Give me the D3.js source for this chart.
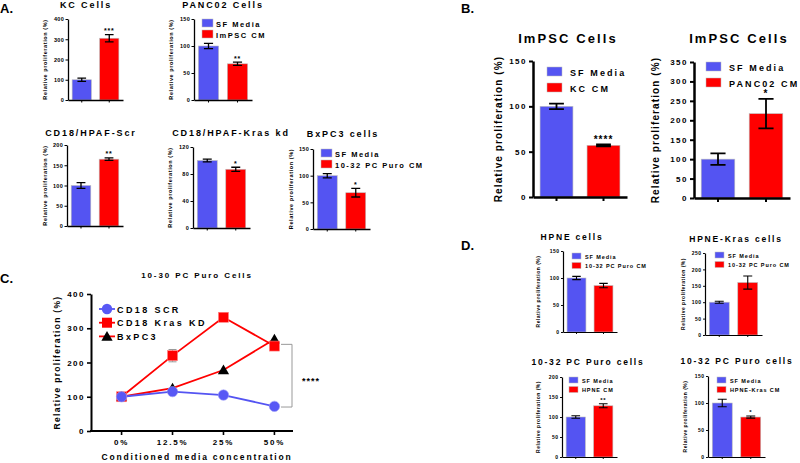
<!DOCTYPE html>
<html><head><meta charset="utf-8">
<script src="https://cdn.jsdelivr.net/npm/d3@7"></script>
<style>body{margin:0;background:#fff}svg{display:block;font-family:"Liberation Sans",Arial,sans-serif;font-weight:bold}</style>
</head><body><svg width="800" height="463"></svg>
<script>
// ---------- DATA ----------
const groups = ["SF Media", "CM"];
const kcCells = [100, 305], kcCellsErr = [8, 18];
const panc02 = [100, 67], panc02Err = [5, 3];
const hpafScr = [100, 165], hpafScrErr = [7, 3];
const hpafKras = [100, 87], hpafKrasErr = [2, 3];
const bxpc3 = [100, 68], bxpc3Err = [4, 8];
const impscKC = [100, 57], impscKCErr = [3, 1];
const impscPanc = [100, 217], impscPancErr = [15, 38];
const hpne = [100, 86], hpneErr = [3, 4];
const hpneKras = [100, 160], hpneKrasErr = [3, 20];
const puroHpne = [100, 128], puroHpneErr = [3, 5];
const puroHpneKras = [100, 74], puroHpneKrasErr = [7, 2];

const concentrations = ["0%", "12.5%", "25%", "50%"];
const cd18Scr = [100, 115, 105, 72];
const cd18KrasKD = [100, 220, 332, 248];
const cd18KrasKDErr = [4, 18, 8, 10];
const bxpc3Line = [100, 125, 178, 268];
const lineTicks = [0, 100, 200, 300, 400];

// ---------- STYLE ----------
const BLUE = "#5454F2", RED = "#FF0000";
const svg = d3.select("svg");
const STY = {
  A: {tickFs:5.5, tickLs:0.3, tickLen:2.5, pad:1.5, axisW:1.3, lblFs:5.5, lblLs:0.6, titleFs:9, titleLs:1.9, legFs:7.5, legLs:1.5, sqW:11, sqH:8, legGap:11, legTx:3, sigFs:7, ew:1.3},
  B: {tickFs:8, tickLs:1.5, tickLen:4, pad:2, axisW:2.5, lblFs:10, lblLs:1.1, titleFs:13, titleLs:2.1, legFs:9, legLs:2.1, sqW:15, sqH:9, legGap:16, legTx:8, sigFs:10, ew:1.8},
  D: {tickFs:5, tickLs:0.5, tickLen:2, pad:1.5, axisW:1.2, lblFs:5, lblLs:0.5, titleFs:8.5, titleLs:1.8, legFs:5.5, legLs:0.9, sqW:9, sqH:6, legGap:9.5, legTx:4, sigFs:6, ew:1.1}
};

const panels = [
 {title:"KC Cells", vals:kcCells, err:kcCellsErr, sig:"***", max:400, step:100, st:"A", x0:68,x1:123,y0:19,y1:100, tx:86, ty:8, lx:47},
 {title:"PANC02 Cells", vals:panc02, err:panc02Err, sig:"**", max:150, step:50, legend:["SF Media","ImPSC CM"], st:"A", x0:194,x1:252,y0:19,y1:100, tx:223, ty:8, lx:173, legX:202, legY:19},
 {title:"CD18/HPAF-Scr", vals:hpafScr, err:hpafScrErr, sig:"**", max:200, step:50, st:"A", x0:67,x1:123,y0:145,y1:226, tx:91, ty:136, lx:47},
 {title:"CD18/HPAF-Kras kd", vals:hpafKras, err:hpafKrasErr, sig:"*", max:120, step:40, st:"A", x0:193,x1:250,y0:147,y1:228, tx:231, ty:136, lx:172},
 {title:"BxPC3 cells", vals:bxpc3, err:bxpc3Err, sig:"*", max:150, step:50, legend:["SF Media","10-32 PC Puro CM"], st:"A", x0:313,x1:370,y0:149,y1:229, tx:343, ty:137, lx:293, legX:321, legY:149},
 {title:"ImPSC Cells", vals:impscKC, err:impscKCErr, sig:"****", max:150, step:50, legend:["SF Media","KC CM"], st:"B", x0:533,x1:627,y0:61,y1:197, tx:568, ty:43, lx:502, legX:547, legY:67},
 {title:"ImPSC Cells", vals:impscPanc, err:impscPancErr, sig:"*", max:350, step:50, legend:["SF Media","PANC02 CM"], st:"B", x0:694,x1:790,y0:62,y1:198, tx:739, ty:43, lx:659, legX:706, legY:62},
 {title:"HPNE cells", vals:hpne, err:hpneErr, sig:"", max:150, step:50, legend:["SF Media","10-32 PC Puro CM"], st:"D", x0:563,x1:617,y0:251,y1:332, tx:572, ty:240, lx:540, legX:572, legY:253},
 {title:"HPNE-Kras cells", vals:hpneKras, err:hpneKrasErr, sig:"", max:250, step:50, legend:["SF Media","10-32 PC Puro CM"], st:"D", x0:705,x1:762,y0:253,y1:335, tx:736, ty:242, lx:685, legX:715, legY:252},
 {title:"10-32 PC Puro cells", vals:puroHpne, err:puroHpneErr, sig:"**", max:200, step:50, legend:["SF Media","HPNE CM"], st:"D", x0:562,x1:617,y0:377,y1:457, tx:588, ty:365, lx:540, legX:569, legY:377},
 {title:"10-32 PC Puro cells", vals:puroHpneKras, err:puroHpneKrasErr, sig:"*", max:150, step:50, legend:["SF Media","HPNE-Kras CM"], st:"D", x0:708,x1:765,y0:376,y1:457, tx:737, ty:364, lx:687, legX:717, legY:377}
];

function barPanel(o){
  const s = STY[o.st];
  const g = svg.append("g");
  const y = d3.scaleLinear().domain([0,o.max]).range([o.y1,o.y0]);
  const x = d3.scaleBand().domain(groups).range([o.x0,o.x1]).paddingInner(0.3).paddingOuter(0.15);
  const bw = x.bandwidth();
  g.selectAll("rect.bar").data(o.vals).join("rect").attr("class","bar")
    .attr("x",(d,i)=>x(groups[i])).attr("width",bw)
    .attr("y",d=>y(d)).attr("height",d=>y(0)-y(d))
    .attr("fill",(d,i)=>i?RED:BLUE).attr("stroke","#bdbdbd").attr("stroke-width",0.6);
  const cw = bw*0.45;
  o.vals.forEach((v,i)=>{
    const cx = x(groups[i])+bw/2, e=o.err[i];
    g.append("path").attr("d",`M${cx},${y(v+e)}V${y(v-e)}M${cx-cw/2},${y(v+e)}H${cx+cw/2}M${cx-cw/2},${y(v-e)}H${cx+cw/2}`)
      .attr("stroke","#000").attr("stroke-width",s.ew).attr("fill","none");
  });
  if(o.sig){
    const cx = x(groups[1])+bw/2;
    g.append("text").attr("x",cx).attr("y",y(o.vals[1]+o.err[1])-1.5).attr("text-anchor","middle")
      .attr("font-size",s.sigFs).attr("letter-spacing",s.sigFs*0.1).text(o.sig);
  }
  const ya = g.append("g").attr("transform",`translate(${o.x0},0)`)
    .call(d3.axisLeft(y).tickValues(d3.range(0,o.max+1e-6,o.step)).tickSize(s.tickLen).tickSizeOuter(0).tickPadding(s.pad));
  ya.select(".domain").attr("stroke","#000").attr("stroke-width",s.axisW);
  ya.selectAll(".tick line").attr("stroke","#000").attr("stroke-width",s.axisW*0.8);
  ya.selectAll(".tick text").attr("font-size",s.tickFs).attr("letter-spacing",s.tickLs).attr("font-family",null).attr("fill","#000");
  const xa = g.append("g").attr("transform",`translate(0,${o.y1})`)
    .call(d3.axisBottom(x).tickSize(s.tickLen).tickSizeOuter(0).tickFormat(""));
  xa.select(".domain").attr("stroke","#000").attr("stroke-width",s.axisW);
  xa.selectAll(".tick line").attr("stroke","#000").attr("stroke-width",s.axisW*0.8);
  g.append("text").attr("transform",`translate(${o.lx},${(o.y0+o.y1)/2}) rotate(-90)`).attr("text-anchor","middle")
    .attr("font-size",s.lblFs).attr("letter-spacing",s.lblLs).text("Relative proliferation (%)");
  g.append("text").attr("x",o.tx).attr("y",o.ty).attr("text-anchor","middle")
    .attr("font-size",s.titleFs).attr("letter-spacing",s.titleLs).text(o.title);
  if(o.legend){
    o.legend.forEach((t,i)=>{
      const yy = o.legY + i*s.legGap;
      g.append("rect").attr("x",o.legX).attr("y",yy).attr("width",s.sqW).attr("height",s.sqH)
        .attr("fill",i?RED:BLUE).attr("stroke","#bdbdbd").attr("stroke-width",0.5);
      g.append("text").attr("x",o.legX+s.sqW+s.legTx).attr("y",yy+s.sqH-0.5)
        .attr("font-size",s.legFs).attr("letter-spacing",s.legLs).text(t);
    });
  }
}
panels.forEach(barPanel);

// ---------- Panel C ----------
(function(){
  const X0=91, X1=293, Y0=294, Y1=431;
  const g = svg.append("g");
  const y = d3.scaleLinear().domain([0,400]).range([Y1,Y0]);
  const x = d3.scalePoint().domain(concentrations).range([X0,305]).padding(0.6);
  const ya = g.append("g").attr("transform",`translate(${X0},0)`)
    .call(d3.axisLeft(y).tickValues(lineTicks).tickSize(4).tickSizeOuter(0).tickPadding(2));
  ya.select(".domain").attr("stroke","#000").attr("stroke-width",2);
  ya.selectAll(".tick line").attr("stroke","#000").attr("stroke-width",1.6);
  ya.selectAll(".tick text").attr("font-size",8).attr("letter-spacing",1.5).attr("font-family",null).attr("fill","#000");
  g.append("line").attr("x1",X0-1).attr("x2",X1).attr("y1",Y1).attr("y2",Y1).attr("stroke","#000").attr("stroke-width",2);
  concentrations.forEach(c=>{
    g.append("line").attr("x1",x(c)).attr("x2",x(c)).attr("y1",Y1).attr("y2",Y1+4).attr("stroke","#000").attr("stroke-width",1.6);
    g.append("text").attr("x",x(c)).attr("y",445).attr("text-anchor","middle").attr("font-size",8).attr("letter-spacing",1.8).text(c);
  });
  g.append("text").attr("x",197).attr("y",460).attr("text-anchor","middle").attr("font-size",8.5).attr("letter-spacing",1.8).text("Conditioned media concentration");
  g.append("text").attr("transform",`translate(60,${(Y0+Y1)/2}) rotate(-90)`).attr("text-anchor","middle")
    .attr("font-size",8.5).attr("letter-spacing",1.3).text("Relative proliferation (%)");
  g.append("text").attr("x",197).attr("y",278).attr("text-anchor","middle").attr("font-size",8).attr("letter-spacing",1.9).text("10-30 PC Puro Cells");

  const line = d3.line().x((d,i)=>x(concentrations[i])).y(d=>y(d));
  g.append("path").datum(bxpc3Line).attr("d",line).attr("fill","none").attr("stroke",RED).attr("stroke-width",1.8);
  g.append("path").datum(cd18KrasKD).attr("d",line).attr("fill","none").attr("stroke",RED).attr("stroke-width",1.8);
  g.append("path").datum(cd18Scr).attr("d",line).attr("fill","none").attr("stroke",BLUE).attr("stroke-width",1.8);
  cd18KrasKD.forEach((v,i)=>{
    const cx=x(concentrations[i]), e=cd18KrasKDErr[i];
    g.append("path").attr("d",`M${cx},${y(v+e)}V${y(v-e)}M${cx-4},${y(v+e)}H${cx+4}M${cx-4},${y(v-e)}H${cx+4}`).attr("stroke","#999").attr("stroke-width",1).attr("fill","none");
  });
  const tri = d3.symbol().type(d3.symbolTriangle).size(55);
  g.selectAll("path.tri").data(bxpc3Line).join("path").attr("class","tri")
    .attr("transform",(d,i)=>`translate(${x(concentrations[i])},${y(d)+1})`).attr("d",tri).attr("fill","#000");
  g.selectAll("rect.sq").data(cd18KrasKD).join("rect").attr("class","sq")
    .attr("x",(d,i)=>x(concentrations[i])-5).attr("y",d=>y(d)-5).attr("width",10).attr("height",10)
    .attr("fill",RED).attr("stroke","#ff8080").attr("stroke-width",0.6);
  g.selectAll("circle.ci").data(cd18Scr).join("circle").attr("class","ci")
    .attr("cx",(d,i)=>x(concentrations[i])).attr("cy",d=>y(d)).attr("r",5.2)
    .attr("fill","#5858F5").attr("stroke","#9a9af8").attr("stroke-width",0.6);
  const bx = 292;
  g.append("path").attr("d",`M${bx-11},${y(cd18KrasKD[3]+5)}H${bx}V${y(cd18Scr[3]-2)}H${bx-11}`).attr("fill","none").attr("stroke","#999").attr("stroke-width",1);
  g.append("text").attr("x",311).attr("y",384).attr("text-anchor","middle").attr("font-size",9).attr("letter-spacing",1).text("****");
  const leg = [["CD18 SCR",BLUE,"c"],["CD18 Kras KD",RED,"s"],["BxPC3",RED,"t"]];
  leg.forEach((l,i)=>{
    const yy = 309 + i*13.7;
    g.append("line").attr("x1",99).attr("x2",115).attr("y1",yy).attr("y2",yy).attr("stroke",l[1]).attr("stroke-width",1.8);
    if(l[2]==="c") g.append("circle").attr("cx",107).attr("cy",yy).attr("r",5.2).attr("fill","#5858F5");
    if(l[2]==="s") g.append("rect").attr("x",102).attr("y",yy-5).attr("width",10).attr("height",10).attr("fill",RED);
    if(l[2]==="t") g.append("path").attr("transform",`translate(107,${yy+1})`).attr("d",tri).attr("fill","#000");
    g.append("text").attr("x",117).attr("y",yy+3.5).attr("font-size",9).attr("letter-spacing",2.4).text(l[0]);
  });
})();

[["A.",0,13],["B.",461,13],["C.",0,283],["D.",461,250]].forEach(p=>{
  svg.append("text").attr("x",p[1]).attr("y",p[2]).attr("font-size",13).text(p[0]);
});
</script>
</body></html>
